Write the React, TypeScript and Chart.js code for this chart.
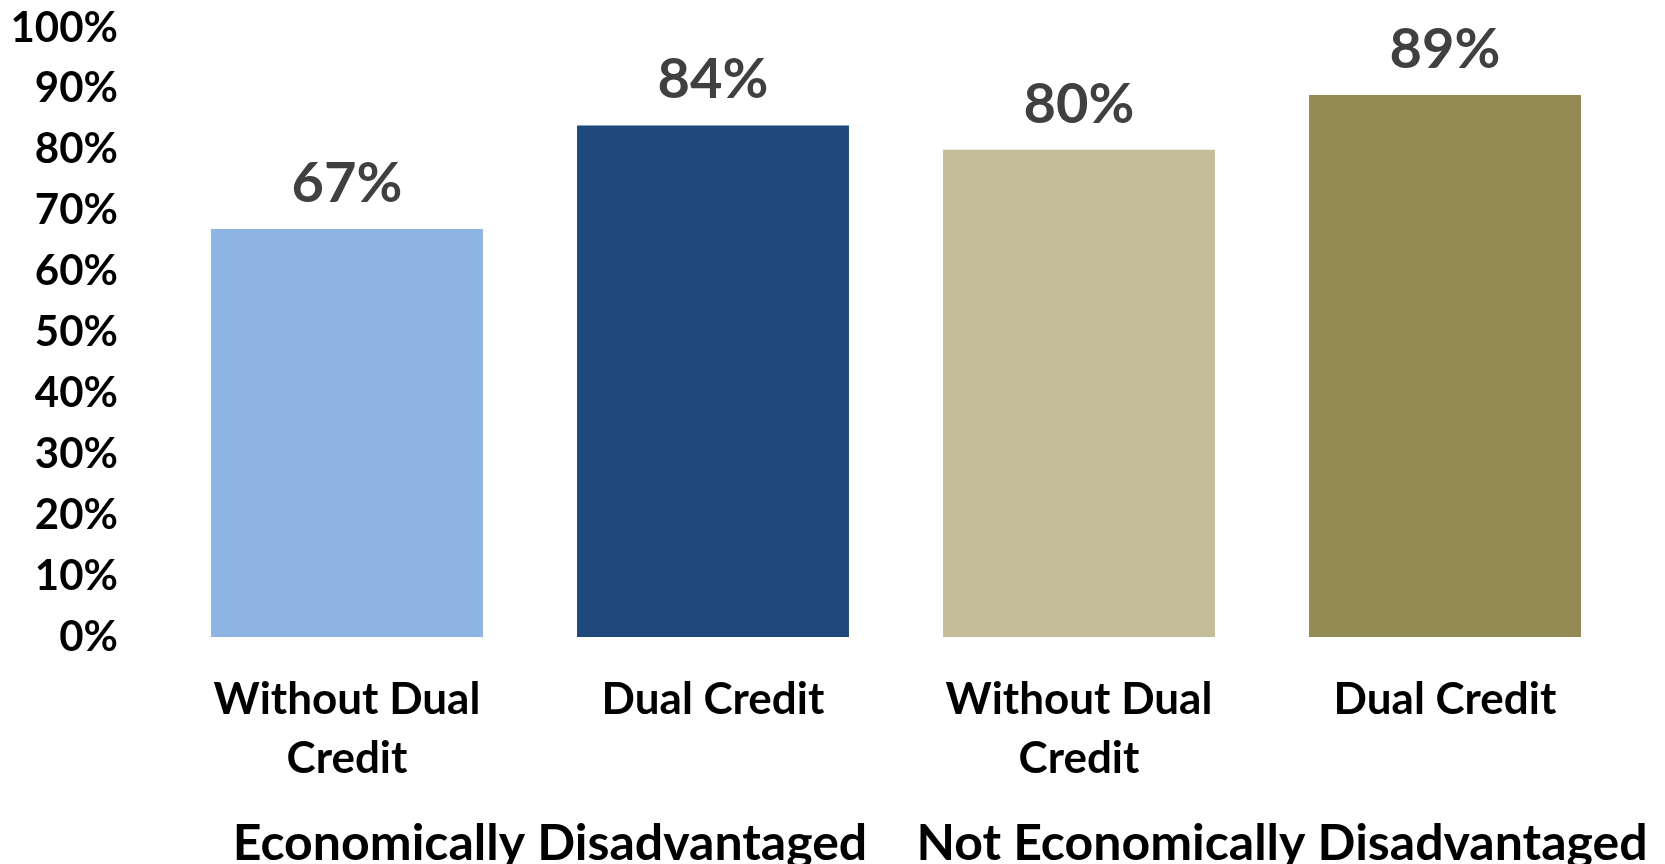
import React, { useEffect, useRef } from "react";
import { Chart, registerables } from "chart.js";

Chart.register(...registerables);

const categories: (string | string[])[] = [
  ["Without Dual", "Credit"],
  "Dual Credit",
  ["Without Dual", "Credit"],
  "Dual Credit",
];
const groupLabels = ["Economically Disadvantaged", "Not Economically Disadvantaged"];
const values = [67, 84, 80, 89];
const barColors = ["#8EB4E3", "#1F497D", "#C4BD97", "#948A54"];
const FONT = "Lato, 'Open Sans', sans-serif";

const valueLabels = {
  id: "valueLabels",
  afterDatasetsDraw(chart: any) {
    const ctx = chart.ctx;
    const meta = chart.getDatasetMeta(0);
    ctx.save();
    ctx.font = `bold 56px ${FONT}`;
    ctx.fillStyle = "#404040";
    ctx.textAlign = "center";
    ctx.textBaseline = "alphabetic";
    meta.data.forEach((bar: any, i: number) => {
      ctx.fillText(`${values[i]}%`, bar.x, bar.y - 27);
    });
    ctx.restore();
  },
};

export default function App() {
  const ref = useRef<HTMLCanvasElement>(null);
  useEffect(() => {
    if (!ref.current) return;
    const chart = new Chart(ref.current, {
      type: "bar",
      data: {
        labels: categories,
        datasets: [
          {
            data: values,
            backgroundColor: barColors,
            borderWidth: 0,
            categoryPercentage: 0.743,
            barPercentage: 1,
          },
        ],
      },
      options: {
        responsive: false,
        animation: false,
        layout: { padding: { top: 28, right: 37, left: 0, bottom: 0 } },
        plugins: { legend: { display: false }, tooltip: { enabled: false } },
        scales: {
          y: {
            min: 0,
            max: 100,
            ticks: {
              stepSize: 10,
              padding: 46,
              color: "#000",
              font: { family: FONT, weight: "bold", size: 42 },
              callback: (v: any) => `${v}%`,
            },
            grid: { display: false, drawTicks: false },
            border: { display: false },
            afterFit: (s: any) => {
              s.width = 164;
              s.paddingTop = 0;
              s.paddingBottom = 0;
            },
          },
          x: {
            weight: 0,
            ticks: {
              padding: 33,
              color: "#000",
              maxRotation: 0,
              autoSkip: false,
              font: { family: FONT, weight: "bold", size: 44, lineHeight: 1.34 },
            },
            grid: { display: false, drawTicks: false },
            border: { display: false },
            afterFit: (s: any) => {
              s.height = 160;
              s.paddingLeft = 0;
              s.paddingRight = 0;
            },
          },
          x2: {
            type: "category",
            labels: groupLabels,
            position: "bottom",
            weight: 1,
            offset: true,
            ticks: {
              padding: 17,
              labelOffset: 20,
              color: "#000",
              maxRotation: 0,
              autoSkip: false,
              font: { family: FONT, weight: "bold", size: 50 },
            },
            grid: { display: false, drawTicks: false },
            border: { display: false },
            afterFit: (s: any) => {
              s.height = 67;
              s.paddingLeft = 0;
              s.paddingRight = 0;
            },
          },
        },
      },
      plugins: [valueLabels],
    });
    return () => chart.destroy();
  }, []);
  return (
    <div style={{ position: "absolute", left: 0, top: 0, width: 1665, height: 864, background: "#fff" }}>
      <canvas ref={ref} width={1665} height={864} />
    </div>
  );
}
